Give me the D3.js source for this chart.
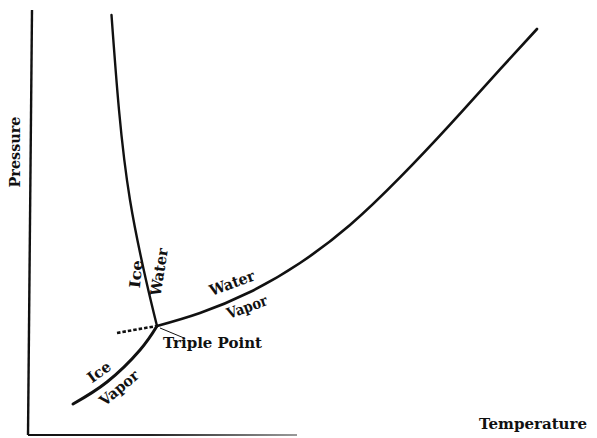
<!DOCTYPE html>
<html>
<head>
<meta charset="utf-8">
<script src="https://cdn.jsdelivr.net/npm/d3@7/dist/d3.min.js"></script>
<style>
  html, body { margin: 0; padding: 0; background: #fff; }
  svg { display: block; }
  text { font-family: "DejaVu Serif", "Liberation Serif", serif; font-weight: bold; fill: #111; }
</style>
</head>
<body>
<svg id="chart" width="597" height="438"></svg>
<script>
// ---- Data (arbitrary temperature / pressure units) ----
const vaporTemp   = [25.4, 34.0, 44.0, 54.0, 64.0, 74.0, 84.0, 94.0, 101.4];
const vaporPress  = [27.25, 30.5, 35.75, 43.0, 52.5, 64.4, 77.6, 91.4, 101.5];

const fusionTemp  = [25.4, 23.2, 20.0, 17.8, 16.3];
const fusionPress = [27.25, 38.75, 58.75, 81.25, 105.0];

const sublTemp    = [25.4, 22.0, 15.4, 8.6];
const sublPress   = [27.25, 21.25, 13.25, 7.75];

const superTemp   = [17.4, 21.4, 25.4];
const superPress  = [25.5, 26.4, 27.25];

const triplePoint = [25.4, 27.25];

const axisTitles  = ["Temperature", "Pressure"];
const curveLabels = ["Ice", "Water", "Water", "Vapor", "Ice", "Vapor", "Triple Point"];

// ---- Scales ----
const svg = d3.select("#chart");
const x = d3.scaleLinear().domain([0, 100]).range([30, 530]);
const y = d3.scaleLinear().domain([0, 100]).range([435, 35]);

const line = d3.line().x(d => x(d[0])).y(d => y(d[1])).curve(d3.curveNatural);
const zip = (a, b) => a.map((v, i) => [v, b[i]]);

// ---- Axes (plain lines, no ticks) ----
const defs = svg.append("defs");
const grad = defs.append("linearGradient").attr("id", "fade")
  .attr("gradientUnits", "userSpaceOnUse")
  .attr("x1", x(-0.4)).attr("x2", x(53.4)).attr("y1", 0).attr("y2", 0);
grad.append("stop").attr("offset", "0%").attr("stop-color", "#111");
grad.append("stop").attr("offset", "45%").attr("stop-color", "#222");
grad.append("stop").attr("offset", "100%").attr("stop-color", "#999");

svg.append("line")
  .attr("x1", x(0.4)).attr("y1", y(106.25))
  .attr("x2", x(-0.4)).attr("y2", y(0))
  .attr("stroke", "#111").attr("stroke-width", 2.4);
svg.append("line")
  .attr("x1", x(-0.4)).attr("y1", y(0))
  .attr("x2", x(53.4)).attr("y2", y(0))
  .attr("stroke", "url(#fade)").attr("stroke-width", 2.2);

// ---- Curves ----
svg.append("path").datum(zip(vaporTemp, vaporPress))
  .attr("d", line).attr("fill", "none").attr("stroke", "#111")
  .attr("stroke-width", 2.6).attr("stroke-linecap", "round");
svg.append("path").datum(zip(fusionTemp, fusionPress))
  .attr("d", line).attr("fill", "none").attr("stroke", "#111")
  .attr("stroke-width", 2.4).attr("stroke-linecap", "round");
svg.append("path").datum(zip(sublTemp, sublPress))
  .attr("d", line).attr("fill", "none").attr("stroke", "#111")
  .attr("stroke-width", 3).attr("stroke-linecap", "round");
svg.append("path").datum(zip(superTemp, superPress))
  .attr("d", line).attr("fill", "none").attr("stroke", "#111")
  .attr("stroke-width", 2.6).attr("stroke-dasharray", "3.5,2");

// leader line from triple point to its label
svg.append("line")
  .attr("x1", x(triplePoint[0]) + 3).attr("y1", y(triplePoint[1]) + 2)
  .attr("x2", x(triplePoint[0]) + 27).attr("y2", y(triplePoint[1]) + 12)
  .attr("stroke", "#111").attr("stroke-width", 1);

// ---- Text ----
function label(txt, cx, cy, rot, len, size) {
  svg.append("text")
    .attr("transform", `translate(${cx},${cy}) rotate(${rot})`)
    .attr("text-anchor", "middle")
    .attr("dy", "0.35em")
    .attr("font-size", size)
    .attr("textLength", len)
    .attr("lengthAdjust", "spacingAndGlyphs")
    .text(txt);
}

label(axisTitles[1], 15, 152, -90, 71, 15);
label(axisTitles[0], 533, 424, 0, 108, 15.5);

label(curveLabels[0], 136, 274, -84, 28, 15);
label(curveLabels[1], 159, 272, -81, 48, 15);
label(curveLabels[2], 232, 283, -20, 47, 15);
label(curveLabels[3], 247, 307, -20, 42, 15);
label(curveLabels[4], 99, 372, -36, 25, 15);
label(curveLabels[5], 119, 388, -40, 46, 15);
label(curveLabels[6], 212.5, 343, 0, 99, 15);
</script>
</body>
</html>
